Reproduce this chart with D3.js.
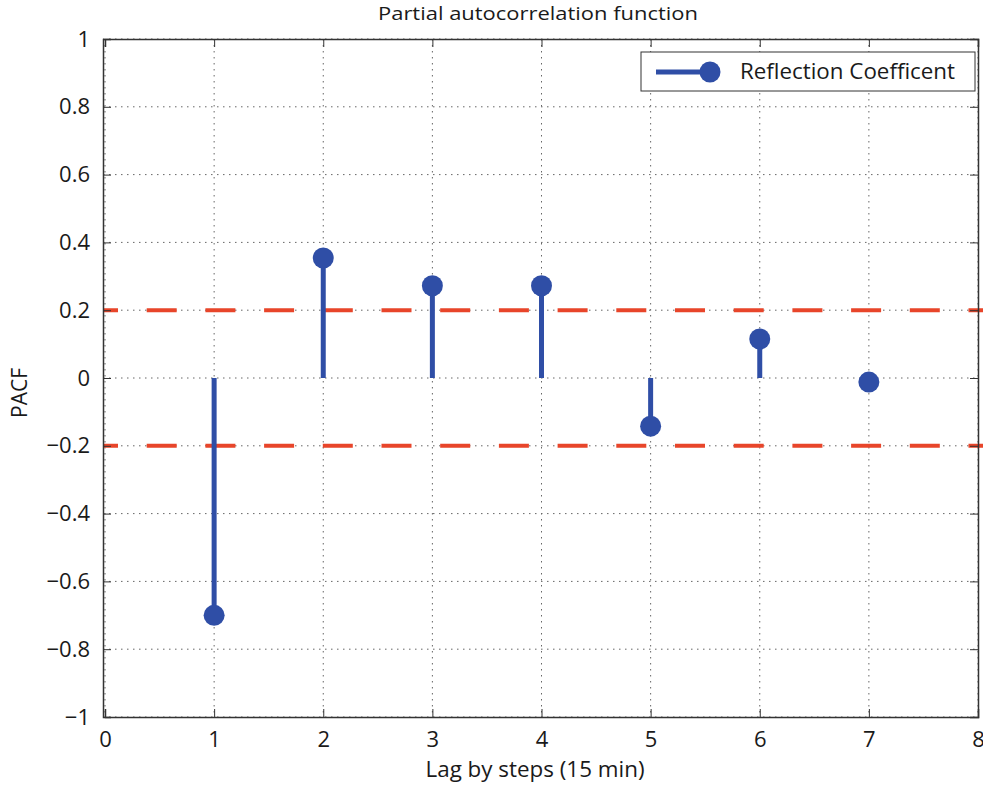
<!DOCTYPE html>
<html>
<head>
<meta charset="utf-8">
<script src="https://cdn.jsdelivr.net/npm/d3@7"></script>
<style>
  html, body { margin: 0; padding: 0; background: #fff; }
  text { font-family: "Open Sans", "Noto Sans", sans-serif; fill: #1a1a1a; }
</style>
</head>
<body>
<svg id="chart" width="983" height="789"></svg>
<script>
// data
var lags = [1, 2, 3, 4, 5, 6, 7];
var pacf = [-0.70, 0.354, 0.272, 0.272, -0.142, 0.115, -0.012];
var bounds = [0.2, -0.2];
var xTicks = [0, 1, 2, 3, 4, 5, 6, 7, 8];
var yTicks = [-1, -0.8, -0.6, -0.4, -0.2, 0, 0.2, 0.4, 0.6, 0.8, 1];
var seriesName = "Reflection Coefficent";

(function () {
var mLeft = 103, mRight = 978, mTop = 39, mBottom = 717;
var blue = "#2f4ea6", red = "#e8452a";

var svg = d3.select("#chart");
var x = d3.scaleLinear().domain([0, 8]).range([mLeft + 2, mRight]);
var y = d3.scaleLinear().domain([-1, 1]).range([mBottom, mTop]);

// grid
var grid = svg.append("g").attr("stroke", "#666").attr("stroke-width", 1)
  .attr("stroke-dasharray", "1.5,4.5");
grid.selectAll(".gx").data(xTicks).enter().append("line")
  .attr("x1", function (d) { return x(d); }).attr("x2", function (d) { return x(d); })
  .attr("y1", mTop).attr("y2", mBottom);
grid.selectAll(".gy").data(yTicks).enter().append("line")
  .attr("x1", mLeft).attr("x2", mRight)
  .attr("y1", function (d) { return y(d); }).attr("y2", function (d) { return y(d); });

// confidence bounds
svg.append("g").selectAll("line").data(bounds).enter().append("line")
  .attr("x1", mLeft).attr("x2", mRight + 5)
  .attr("y1", function (d) { return y(d); }).attr("y2", function (d) { return y(d); })
  .attr("stroke", red).attr("stroke-width", 4)
  .attr("stroke-dasharray", "30,28.7").attr("stroke-dashoffset", 15);

// axes
var fmt = function (d) { return d3.format("")(d); };
svg.append("g").attr("transform", "translate(0," + mBottom + ")")
  .call(d3.axisBottom(x).tickValues(xTicks).tickSize(-8).tickPadding(14).tickFormat(fmt));
svg.append("g").attr("transform", "translate(0," + mTop + ")")
  .call(d3.axisTop(x).tickValues(xTicks).tickSize(-8).tickFormat(""));
svg.append("g").attr("transform", "translate(" + mLeft + ",0)")
  .call(d3.axisLeft(y).tickValues(yTicks).tickSize(-8).tickPadding(13).tickFormat(fmt));
svg.append("g").attr("transform", "translate(" + mRight + ",0)")
  .call(d3.axisRight(y).tickValues(yTicks).tickSize(-8).tickFormat(""));
svg.selectAll(".domain").attr("stroke", "#333").attr("stroke-width", 1.5);
svg.selectAll(".tick line").attr("stroke", "#333");
svg.selectAll(".tick text").attr("font-size", 22).attr("fill", "#1a1a1a")
  .style("font-family", "'Open Sans', sans-serif");

// stems
var pts = lags.map(function (l, i) { return { lag: l, v: pacf[i] }; });
svg.append("g").selectAll("line").data(pts).enter().append("line")
  .attr("x1", function (d) { return x(d.lag); }).attr("x2", function (d) { return x(d.lag); })
  .attr("y1", y(0)).attr("y2", function (d) { return y(d.v); })
  .attr("stroke", blue).attr("stroke-width", 5);
svg.append("g").selectAll("circle").data(pts).enter().append("circle")
  .attr("cx", function (d) { return x(d.lag); }).attr("cy", function (d) { return y(d.v); })
  .attr("r", 10.5).attr("fill", blue);

// titles
svg.append("text").attr("x", 538).attr("y", 20).attr("text-anchor", "middle")
  .attr("font-size", 19).attr("textLength", 320).attr("lengthAdjust", "spacingAndGlyphs")
  .text("Partial autocorrelation function");
svg.append("text").attr("x", 535).attr("y", 777).attr("text-anchor", "middle")
  .attr("font-size", 21).attr("textLength", 219).attr("lengthAdjust", "spacingAndGlyphs")
  .text("Lag by steps (15 min)");
svg.append("text").attr("transform", "translate(27,393) rotate(-90)").attr("text-anchor", "middle")
  .attr("font-size", 21).text("PACF");

// legend
var lg = svg.append("g");
lg.append("rect").attr("x", 641).attr("y", 52).attr("width", 334).attr("height", 39)
  .attr("fill", "#fff").attr("stroke", "#333").attr("stroke-width", 1);
lg.append("line").attr("x1", 656).attr("x2", 710).attr("y1", 72).attr("y2", 72)
  .attr("stroke", blue).attr("stroke-width", 5);
lg.append("circle").attr("cx", 710).attr("cy", 72).attr("r", 10.5).attr("fill", blue);
lg.append("text").attr("x", 740).attr("y", 79).attr("font-size", 21)
  .attr("textLength", 215).attr("lengthAdjust", "spacingAndGlyphs").text(seriesName);
})();
</script>
</body>
</html>
